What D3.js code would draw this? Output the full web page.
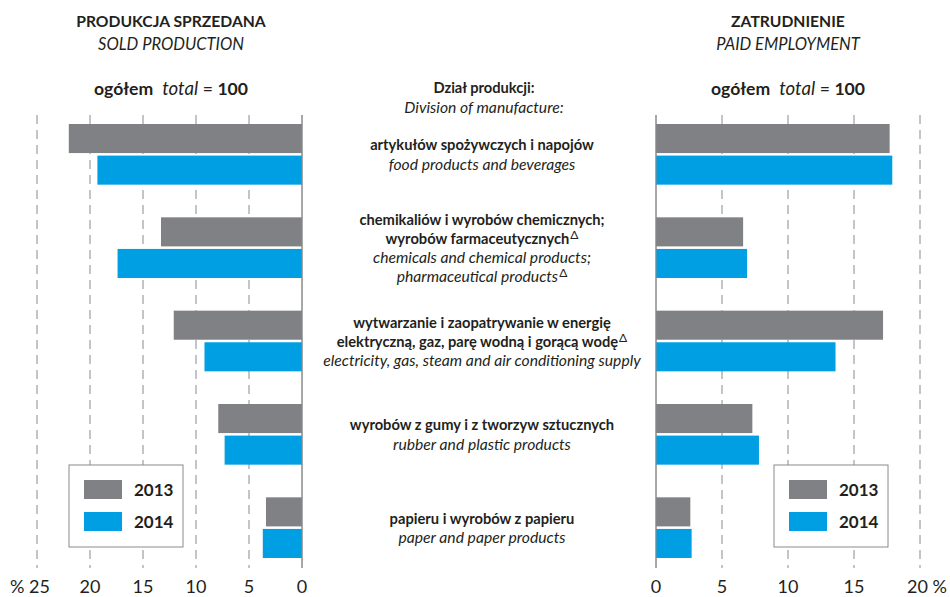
<!DOCTYPE html>
<html>
<head>
<meta charset="utf-8">
<script src="https://cdn.jsdelivr.net/npm/d3@7"></script>
<style>
  body { margin: 0; background: #fff; }
  svg text { font-family: Lato, "Liberation Sans", sans-serif; fill: #231f20; }
</style>
</head>
<body>
<div id="chart"></div>
<script>
// categories (Polish / English), values in % (total = 100)
const categoriesPl = [
  ["artykułów spożywczych i napojów"],
  ["chemikaliów i wyrobów chemicznych;", "wyrobów farmaceutycznych^"],
  ["wytwarzanie i zaopatrywanie w energię", "elektryczną, gaz, parę wodną i gorącą wodę^"],
  ["wyrobów z gumy i z tworzyw sztucznych"],
  ["papieru i wyrobów z papieru"]
];
const categoriesEn = [
  ["food products and beverages"],
  ["chemicals and chemical products;", "pharmaceutical products^"],
  ["electricity, gas, steam and air conditioning supply"],
  ["rubber and plastic products"],
  ["paper and paper products"]
];
const years = ["2013", "2014"];
const production2013 = [22.0, 13.3, 12.1, 7.9, 3.4];
const production2014 = [19.3, 17.4, 9.2, 7.3, 3.7];
const employment2013 = [17.7, 6.6, 17.2, 7.3, 2.6];
const employment2014 = [17.9, 6.9, 13.6, 7.8, 2.7];
const leftTicks = [25, 20, 15, 10, 5, 0];
const rightTicks = [0, 5, 10, 15, 20];

const colors = {"2013": "#808184", "2014": "#009fe3"};

const width = 950, height = 597;
const svg = d3.select("#chart").append("svg")
    .attr("width", width)
    .attr("height", height);

const keys = d3.range(categoriesPl.length);
const yGroup = d3.scaleBand()
    .domain(keys)
    .range([124, 558])
    .paddingInner(0.35)
    .paddingOuter(0);
const yYear = d3.scaleBand()
    .domain(years)
    .range([0, yGroup.bandwidth()])
    .paddingInner(0.08);

const xLeft = d3.scaleLinear().domain([25, 0]).range([37, 302]);
const xRight = d3.scaleLinear().domain([0, 20]).range([656, 920]);

const gridTop = 115, gridBottom = 568;

function gridLines(scale, ticks) {
    svg.append("g").selectAll("line")
        .data(ticks)
        .join("line")
        .attr("x1", d => scale(d)).attr("x2", d => scale(d))
        .attr("y1", gridTop).attr("y2", gridBottom)
        .attr("stroke", "#8a8a8a")
        .attr("stroke-width", 1)
        .attr("stroke-dasharray", d => d === 0 ? null : "9,6");
}
gridLines(xLeft, leftTicks);
gridLines(xRight, rightTicks);

function bars(scale, d13, d14, left) {
    const rows = [];
    keys.forEach(k => {
        rows.push({k, year: "2013", v: d13[k]});
        rows.push({k, year: "2014", v: d14[k]});
    });
    svg.append("g").selectAll("rect")
        .data(rows)
        .join("rect")
        .attr("x", d => left ? scale(d.v) : scale(0))
        .attr("width", d => Math.abs(scale(d.v) - scale(0)))
        .attr("y", d => yGroup(d.k) + yYear(d.year))
        .attr("height", yYear.bandwidth())
        .attr("fill", d => colors[d.year]);
}
bars(xLeft, production2013, production2014, true);
bars(xRight, employment2013, employment2014, false);

// redraw zero lines on top
[xLeft(0), xRight(0)].forEach(x => {
    svg.append("line")
        .attr("x1", x).attr("x2", x)
        .attr("y1", gridTop).attr("y2", gridBottom)
        .attr("stroke", "#8a8a8a");
});

// tick labels
const tickY = 593;
svg.append("g").selectAll("text")
    .data(leftTicks)
    .join("text")
    .attr("x", d => d === 25 ? xLeft(d) - 7 : xLeft(d))
    .attr("y", tickY)
    .attr("text-anchor", "middle")
    .attr("font-size", 18)
    .text(d => d === 25 ? "% 25" : d);
svg.append("g").selectAll("text")
    .data(rightTicks)
    .join("text")
    .attr("x", d => d === 20 ? xRight(d) + 7 : xRight(d))
    .attr("y", tickY)
    .attr("text-anchor", "middle")
    .attr("font-size", 18)
    .text(d => d === 20 ? "20 %" : d);

// category labels in the middle
const midX = 482, lineH = 19;
keys.forEach(k => {
    const lines = categoriesPl[k].map(l => ({l, bold: true}))
        .concat(categoriesEn[k].map(l => ({l, bold: false})));
    const cy = yGroup(k) + yGroup.bandwidth() / 2;
    const y0 = cy - (lines.length - 1) * lineH / 2 + 0.5;
    lines.forEach((ln, i) => {
        const t = svg.append("text")
            .attr("x", midX)
            .attr("y", y0 + i * lineH)
            .attr("dy", "0.35em")
            .attr("text-anchor", "middle")
            .attr("font-size", ln.bold ? 14.7 : 15.7)
            .attr("font-weight", ln.bold ? "bold" : "normal")
            .attr("font-style", ln.bold ? "normal" : "italic");
        const parts = ln.l.split("^");
        t.append("tspan").text(parts[0]);
        if (ln.l.includes("^")) {
            t.append("tspan").attr("dx", 1).attr("dy", -5).attr("font-size", 12)
                .attr("font-weight", "normal").attr("font-style", "normal").text("\u0394");
        }
    });
});

// headers
function header(x, pl, en) {
    svg.append("text").attr("x", x).attr("y", 27)
        .attr("text-anchor", "middle").attr("font-size", 15.7).attr("font-weight", "bold").text(pl);
    svg.append("text").attr("x", x).attr("y", 50)
        .attr("text-anchor", "middle").attr("font-size", 16.5).attr("font-style", "italic").text(en);
    const t = svg.append("text").attr("x", x).attr("y", 95)
        .attr("text-anchor", "middle").attr("font-size", 17.6);
    t.append("tspan").attr("font-weight", "bold").text("ogółem");
    t.append("tspan").attr("dx", 9).attr("font-style", "italic").attr("font-size", 18.6).text("total");
    t.append("tspan").text(" = ");
    t.append("tspan").attr("font-weight", "bold").text("100");
}
header(171, "PRODUKCJA SPRZEDANA", "SOLD PRODUCTION");
header(788, "ZATRUDNIENIE", "PAID EMPLOYMENT");

svg.append("text").attr("x", 484).attr("y", 93)
    .attr("text-anchor", "middle").attr("font-size", 14.7).attr("font-weight", "bold")
    .text("Dział produkcji:");
svg.append("text").attr("x", 484).attr("y", 113)
    .attr("text-anchor", "middle").attr("font-size", 15.7).attr("font-style", "italic")
    .text("Division of manufacture:");

// legends
function legend(x, y) {
    const g = svg.append("g").attr("transform", `translate(${x},${y})`);
    g.append("rect").attr("width", 114).attr("height", 82)
        .attr("fill", "#fff").attr("stroke", "#8a8a8a");
    const ly = d3.scalePoint().domain(years).range([25, 57]);
    g.selectAll("rect.sw").data(years).join("rect")
        .attr("class", "sw")
        .attr("x", 15).attr("y", d => ly(d) - 10)
        .attr("width", 38).attr("height", 19)
        .attr("fill", d => colors[d]);
    g.selectAll("text").data(years).join("text")
        .attr("x", 65).attr("y", d => ly(d))
        .attr("dy", "0.35em")
        .attr("font-size", 17).attr("font-weight", "bold")
        .text(d => d);
}
legend(69, 465);
legend(774, 465);
</script>
</body>
</html>
